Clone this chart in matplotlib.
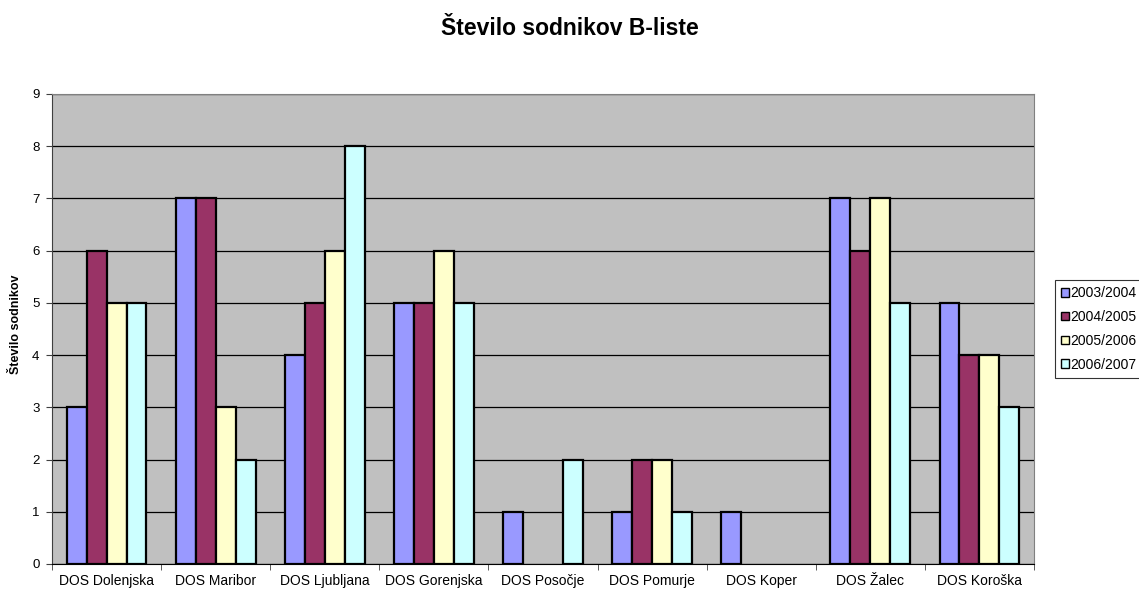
import numpy as np
import matplotlib
matplotlib.use('Agg')
import matplotlib.pyplot as plt

plt.rcParams['font.family'] = ['Liberation Sans', 'DejaVu Sans']

categories = ['DOS Dolenjska', 'DOS Maribor', 'DOS Ljubljana', 'DOS Gorenjska',
              'DOS Posočje', 'DOS Pomurje', 'DOS Koper', 'DOS Žalec', 'DOS Koroška']
seasons = ['2003/2004', '2004/2005', '2005/2006', '2006/2007']
s2003 = [3, 7, 4, 5, 1, 1, 1, 7, 5]
s2004 = [6, 7, 5, 5, 0, 2, 0, 6, 4]
s2005 = [5, 3, 6, 6, 0, 2, 0, 7, 4]
s2006 = [5, 2, 8, 5, 2, 1, 0, 5, 3]
colors = ['#9999FF', '#993366', '#FFFFCC', '#CCFFFF']

fig = plt.figure(figsize=(11.39, 5.91), dpi=100)
ax = fig.add_axes([52 / 1139, 27 / 591, 982 / 1139, 470 / 591])
ax.set_facecolor('#C0C0C0')

x = np.arange(len(categories))
w = 0.183
for i, (vals, c, lab) in enumerate(zip([s2003, s2004, s2005, s2006], colors, seasons)):
    v = np.array(vals, dtype=float)
    # empty values are simply not drawn
    pos = x + (i - 1.5) * w
    mask = v > 0
    ax.bar(pos[mask], v[mask], w, color=c, edgecolor='black', linewidth=1.6,
           label=lab, zorder=3)

ax.set_xlim(-0.5, len(categories) - 0.5)
ax.set_ylim(0, 9)
ax.set_yticks(range(10))
ax.yaxis.grid(True, color='black', linewidth=0.9, zorder=1)
ax.set_axisbelow(True)
ax.set_xticks(x)
ax.set_xticklabels(categories, fontsize=10)
ax.set_xticks(np.arange(-0.5, len(categories), 1), minor=True)
ax.tick_params(axis='x', which='major', length=0, pad=7)
ax.tick_params(axis='x', which='minor', length=4, direction='out', color='#404040')
ax.tick_params(axis='y', length=4, direction='out', labelsize=9.5, color='#404040', pad=5)
for side in ['top', 'right']:
    ax.spines[side].set_color('#808080')
ax.spines['left'].set_color('#404040')
ax.spines['bottom'].set_color('black')

ax.set_ylabel('Število sodnikov', fontsize=9, fontweight='bold')
ax.yaxis.set_label_coords(-0.031, 0.51)
fig.text(0.5, 1 - 35 / 591, 'Število sodnikov B-liste', fontsize=16.5,
         fontweight='bold', ha='center', va='baseline')

leg = ax.legend(loc='center left', bbox_to_anchor=(1.021, 0.5), fontsize=10,
                frameon=True, fancybox=False, edgecolor='black', handlelength=0.55,
                handleheight=0.55, handletextpad=0.15, borderpad=0.45, labelspacing=0.7,
                borderaxespad=0)
leg.get_frame().set_linewidth(0.8)
for h in leg.legend_handles:
    h.set_linewidth(1.0)

fig.savefig('out.png', dpi=100)
